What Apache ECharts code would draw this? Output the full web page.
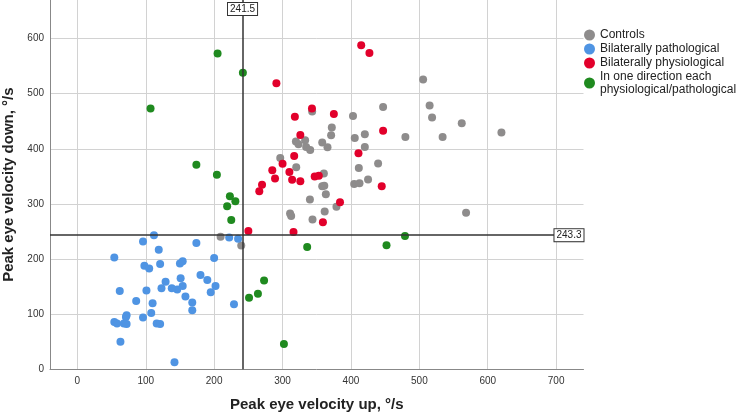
<!DOCTYPE html>
<html>
<head>
<meta charset="utf-8">
<script src="https://cdn.jsdelivr.net/npm/echarts@6/dist/echarts.min.js"></script>
<style>
html,body{margin:0;padding:0;background:#fff;}
#c{width:738px;height:415px;}
</style>
</head>
<body>
<div id="c"></div>
<script>
var seriesNames = ['Controls', 'Bilaterally pathological', 'Bilaterally physiological', 'In one direction each\nphysiological/pathological'];
var seriesColors = ['#8e8c8c', '#4f94e3', '#e2002b', '#1f8a1f'];

var controls = [
  [505.5,525.6],[515,478.5],[518.6,456.8],[562,446.4],[620,429.6],[534,421.6],[479.6,421.6],
  [447,476],[403,459.7],[372,438.6],[371,424.7],[420.3,426.5],[405.6,419.8],[420.3,403.5],
  [358,411.4],[365.7,403],[343.3,467.6],[333,415.6],[319.5,413.3],[323.3,408.4],[334.5,403.5],
  [340.4,398],[296.6,383.5],[320,366.7],[360.4,355.3],[358,332],[361,332.8],[363.3,317.7],
  [340,308],[361.6,286.4],[439.7,373.4],[411.5,365],[404.7,336.4],[412.5,337.7],[425,344.3],
  [378.8,294.7],[343.8,271.9],[311,282.8],[312.6,277.9],[568.3,283.9],[209.4,240.4],[239.6,224.8]
];
var bilatPathological = [
  [54,203],[98,188],[105,183],[121,191],[119,217],[96,232],[112,243],[174,229],[200,202],
  [150,192],[154,196],[151,165],[154,151],[158,132],[146,145],[138,147],[180,171],[190,162],
  [202,151],[195,140],[168,121],[168,107],[229,118],[222,239],[235,237],[129,159],[123,147],
  [101,143],[62,142],[86,124],[110,120],[108,102],[96,94],[72,98],[71,95],[54,86],[58,83],
  [68,83],[72,82],[116,83],[121,82],[63,50],[142,13]
];
var bilatPhysiological = [
  [317,387],[300,373],[285,361],[289,346],[270,335],[266,323],[310,358],[314,344],[326,341],
  [347,350],[353,351],[359,267],[316,249],[250,251],[415,588],[427,574],[343,473],[318,458],
  [375,463],[447,433],[326,425],[411,392],[445,332],[384,303],[291,519]
];
var oneDirection = [
  [219,296],[231,305],[225,271],[251,130],[264,137],[273,161],[302,46],[205,573],[242,538],
  [107,473],[174,371],[204,353],[223,314],[336,222],[452,225],[479,242]
];
var refX = [241.5];
var refY = [243.3];

var FONT = '"Liberation Sans", Arial, sans-serif';
var dataSets = [controls, bilatPathological, bilatPhysiological, oneDirection];

var refLabel = {
  show: true,
  formatter: '{b}',
  fontFamily: FONT,
  fontSize: 10,
  lineHeight: 11,
  color: '#222',
  backgroundColor: '#fff',
  borderColor: '#333',
  borderWidth: 1,
  padding: [1, 2, 0, 2]
};

var series = dataSets.map(function (d, i) {
  var s = {
    name: seriesNames[i],
    type: 'scatter',
    data: d,
    symbol: 'circle',
    symbolSize: 8,
    itemStyle: { color: seriesColors[i], opacity: 1 },
    emphasis: { disabled: true }
  };
  if (i === dataSets.length - 1) {
    s.markLine = {
      silent: true,
      symbol: ['none', 'none'],
      animation: false,
      lineStyle: { color: '#333', width: 1.5, type: 'solid' },
      emphasis: { disabled: true },
      data: [
        { name: String(refX[0]), xAxis: refX[0],
          label: Object.assign({}, refLabel, { position: 'end', distance: -15 }) },
        { name: String(refY[0]), yAxis: refY[0],
          label: Object.assign({}, refLabel, { position: 'insideEnd', distance: 0 }) }
      ]
    };
  }
  return s;
});

var legendData = seriesNames.map(function (n, i) {
  return i === seriesNames.length - 1 ? { name: n, textStyle: { lineHeight: 13 } } : { name: n };
});

var chart = echarts.init(document.getElementById('c'), null, { renderer: 'canvas' });
chart.setOption({
  animation: false,
  backgroundColor: '#fff',
  textStyle: { fontFamily: FONT },
  grid: { left: 50, right: 154.5, top: 0, bottom: 45.7, containLabel: false, outerBoundsMode: 'none' },
  legend: {
    orient: 'vertical',
    left: 584,
    top: 28,
    padding: 0,
    itemWidth: 11,
    itemHeight: 11,
    itemGap: 0,
    icon: 'circle',
    selectedMode: false,
    data: legendData,
    textStyle: { fontFamily: FONT, fontSize: 12, lineHeight: 14, color: '#222' }
  },
  xAxis: {
    type: 'value',
    min: -40,
    max: 740,
    splitNumber: 8,
    name: 'Peak eye velocity up, °/s',
    nameLocation: 'middle',
    nameGap: 28,
    nameTextStyle: { fontFamily: FONT, fontSize: 15, fontWeight: 'bold', color: '#222' },
    axisLine: { show: true, onZero: false, lineStyle: { color: '#888', width: 1 } },
    axisTick: { show: false },
    axisLabel: {
      fontFamily: FONT, fontSize: 10, color: '#333', margin: 7,
      showMinLabel: false, showMaxLabel: false,
      formatter: function (v) { return v % 100 === 0 ? String(v) : ''; }
    },
    splitLine: { show: true, showMinLine: false, showMaxLine: false, lineStyle: { color: '#d2d2d2', width: 1 } }
  },
  yAxis: {
    type: 'value',
    min: 0,
    max: 670,
    splitNumber: 7,
    name: 'Peak eye velocity down, °/s',
    nameLocation: 'middle',
    nameGap: 34,
    nameTextStyle: { fontFamily: FONT, fontSize: 15, fontWeight: 'bold', color: '#222' },
    axisLine: { show: true, onZero: false, lineStyle: { color: '#888', width: 1 } },
    axisTick: { show: false },
    axisLabel: {
      fontFamily: FONT, fontSize: 10, color: '#333', margin: 6,
      showMaxLabel: false,
      formatter: function (v) { return v % 100 === 0 ? String(v) : ''; }
    },
    splitLine: { show: true, showMinLine: false, showMaxLine: false, lineStyle: { color: '#d2d2d2', width: 1 } }
  },
  series: series
});
</script>
</body>
</html>
